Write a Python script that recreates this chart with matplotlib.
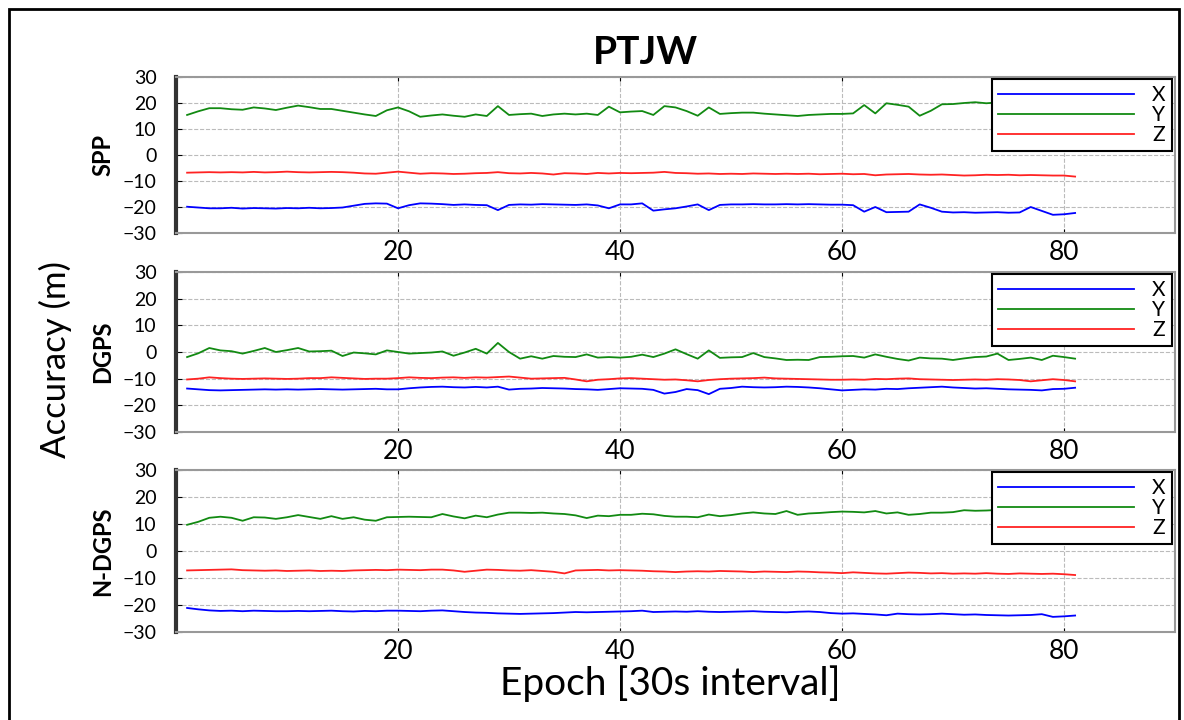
import matplotlib
matplotlib.use("Agg")
import matplotlib.pyplot as plt
from matplotlib.patches import Rectangle

plt.rcParams['font.family'] = ['Lato', 'DejaVu Sans']

# Epochs (30 s interval)
epoch = list(range(1, 82))

# SPP errors (m)
spp_x = [-19.9, -20.2, -20.5, -20.5, -20.3, -20.6, -20.4, -20.5, -20.6, -20.4,
         -20.5, -20.3, -20.5, -20.4, -20.2, -19.5, -18.8, -18.6, -18.7, -20.5,
         -19.3, -18.6, -18.7, -18.9, -19.2, -19.0, -19.2, -19.3, -21.2, -19.2,
         -19.0, -19.1, -18.9, -19.0, -19.1, -19.2, -19.0, -19.4, -20.5, -19.0,
         -19.0, -18.6, -21.4, -20.9, -20.5, -19.8, -19.0, -21.2, -19.2, -19.0,
         -19.0, -18.9, -19.0, -19.0, -18.9, -19.0, -18.9, -19.0, -19.1, -19.1,
         -19.3, -21.8, -20.0, -22.0, -21.9, -21.8, -19.0, -20.3, -21.8, -22.1,
         -22.0, -22.2, -22.1, -22.0, -22.2, -22.1, -20.0, -21.5, -23.0, -22.8, -22.3]
spp_y = [15.4, 16.8, 18.0, 18.0, 17.6, 17.4, 18.3, 17.9, 17.3, 18.2,
         19.0, 18.4, 17.7, 17.7, 17.0, 16.3, 15.6, 15.0, 17.2, 18.3,
         16.8, 14.7, 15.2, 15.6, 15.1, 14.7, 15.6, 15.0, 18.8, 15.4,
         15.7, 15.9, 15.0, 15.6, 15.9, 15.6, 15.9, 15.4, 18.6, 16.4,
         16.7, 16.9, 15.4, 18.8, 18.3, 16.9, 15.1, 18.3, 15.8, 16.1,
         16.3, 16.3, 15.9, 15.6, 15.3, 15.0, 15.4, 15.6, 15.8, 15.8,
         16.0, 19.2, 16.0, 19.9, 19.3, 18.6, 15.1, 17.0, 19.5, 19.6,
         20.0, 20.3, 19.9, 20.2, 20.4, 20.1, 20.3, 20.5, 20.2, 20.4, 20.3]
spp_z = [-6.8, -6.7, -6.6, -6.7, -6.6, -6.7, -6.5, -6.7, -6.6, -6.4,
         -6.6, -6.7, -6.6, -6.5, -6.6, -6.8, -7.1, -7.2, -6.8, -6.4,
         -6.8, -7.2, -7.0, -7.1, -7.3, -7.2, -7.0, -6.9, -6.6, -7.0,
         -7.1, -6.9, -7.1, -7.5, -7.0, -7.1, -7.3, -6.9, -7.1, -6.9,
         -7.0, -6.9, -6.8, -6.5, -6.9, -7.0, -7.2, -7.1, -7.3, -7.2,
         -7.3, -7.1, -7.2, -7.3, -7.2, -7.3, -7.2, -7.4, -7.3, -7.2,
         -7.4, -7.3, -7.8, -7.5, -7.4, -7.3, -7.5, -7.6, -7.5, -7.7,
         -7.9, -7.8, -7.6, -7.7, -7.6, -7.8, -7.7, -7.8, -7.9, -7.9, -8.3]

# DGPS errors (m)
dgps_x = [-13.7, -14.0, -14.3, -14.4, -14.3, -14.2, -14.1, -14.0, -14.1, -14.0,
          -14.1, -14.0, -13.9, -14.0, -14.1, -14.0, -13.9, -13.8, -14.0, -14.0,
          -13.6, -13.3, -13.1, -13.0, -13.2, -13.3, -13.1, -13.3, -13.0, -14.1,
          -13.8, -13.7, -13.5, -13.6, -13.7, -13.9, -14.0, -14.2, -13.9, -13.6,
          -13.7, -13.8, -14.2, -15.6, -15.0, -13.9, -14.3, -15.8, -13.8, -13.5,
          -13.0, -13.2, -13.3, -13.2, -13.0, -13.1, -13.3, -13.6, -14.0, -14.4,
          -14.2, -14.0, -14.1, -13.8, -13.9, -13.6, -13.4, -13.2, -13.0, -13.3,
          -13.5, -13.7, -13.6, -13.8, -14.0, -14.1, -14.2, -14.4, -13.9, -13.8, -13.4]
dgps_y = [-1.9, -0.5, 1.5, 0.6, 0.3, -0.6, 0.4, 1.5, 0.0, 0.7,
          1.5, 0.2, 0.3, 0.5, -1.5, -0.2, -0.5, -0.9, 0.6, 0.0,
          -0.6, -0.4, -0.2, 0.2, -1.4, -0.2, 1.2, -0.6, 3.4, 0.0,
          -2.5, -1.6, -2.5, -1.5, -1.8, -1.9, -0.9, -2.1, -1.9, -2.1,
          -1.8, -1.0, -1.9, -0.6, 1.0, -0.8, -2.5, 0.6, -2.2, -2.0,
          -1.9, -0.4, -1.9, -2.4, -3.0, -2.9, -3.0, -1.9, -1.8, -1.6,
          -1.5, -2.1, -0.9, -1.8, -2.6, -3.2, -2.1, -2.4, -2.5, -3.0,
          -2.4, -1.9, -1.7, -0.6, -3.0, -2.6, -2.1, -3.0, -1.4, -1.9, -2.5]
dgps_z = [-10.3, -10.0, -9.5, -9.8, -10.0, -10.1, -10.0, -9.9, -10.0, -10.1,
          -10.0, -9.8, -9.8, -9.5, -9.7, -9.9, -10.1, -10.0, -10.0, -9.8,
          -9.5, -9.7, -9.8, -9.6, -9.5, -9.7, -9.5, -9.6, -9.4, -9.2,
          -9.6, -10.0, -9.9, -9.8, -9.7, -10.3, -11.0, -10.4, -10.2, -9.9,
          -9.8, -10.0, -10.2, -10.4, -10.3, -10.6, -11.0, -10.5, -10.2, -10.0,
          -9.9, -9.8, -9.6, -9.9, -10.0, -10.1, -10.2, -10.3, -10.4, -10.4,
          -10.3, -10.4, -10.1, -10.2, -10.0, -9.9, -10.2, -10.3, -10.4, -10.5,
          -10.4, -10.3, -10.4, -10.2, -10.3, -10.5, -11.0, -10.6, -10.2, -10.5, -11.0]

# N-DGPS errors (m)
ndgps_x = [-21.1, -21.6, -22.0, -22.2, -22.1, -22.3, -22.1, -22.2, -22.3, -22.3,
           -22.2, -22.3, -22.2, -22.1, -22.3, -22.4, -22.2, -22.3, -22.1, -22.1,
           -22.2, -22.3, -22.1, -22.0, -22.3, -22.6, -22.8, -22.9, -23.1, -23.2,
           -23.3, -23.2, -23.1, -23.0, -22.8, -22.6, -22.7, -22.6, -22.5, -22.4,
           -22.3, -22.1, -22.6, -22.5, -22.4, -22.5, -22.3, -22.5, -22.6, -22.5,
           -22.4, -22.3, -22.5, -22.6, -22.7, -22.5, -22.4, -22.6, -23.0, -23.2,
           -23.1, -23.3, -23.5, -23.8, -23.2, -23.4, -23.5, -23.4, -23.2, -23.4,
           -23.6, -23.5, -23.7, -23.8, -23.9, -23.8, -23.7, -23.4, -24.4, -24.2, -23.9]
ndgps_y = [9.7, 10.8, 12.3, 12.7, 12.3, 11.2, 12.5, 12.4, 11.9, 12.5,
           13.3, 12.6, 11.9, 12.9, 11.9, 12.5, 11.6, 11.2, 12.5, 12.6,
           12.7, 12.6, 12.5, 13.7, 12.8, 12.1, 13.1, 12.5, 13.5, 14.2,
           14.2, 14.1, 14.2, 13.9, 13.7, 13.2, 12.2, 13.1, 12.9, 13.4,
           13.4, 13.8, 13.6, 13.0, 12.7, 12.7, 12.5, 13.5, 12.9, 13.3,
           13.9, 14.3, 13.9, 13.7, 14.8, 13.4, 13.9, 14.1, 14.4, 14.6,
           14.5, 14.3, 14.8, 13.9, 14.3, 13.4, 13.7, 14.2, 14.2, 14.4,
           15.1, 14.9, 15.0, 15.2, 15.0, 15.3, 15.1, 15.4, 15.2, 15.3, 15.1]
ndgps_z = [-7.2, -7.1, -7.0, -6.9, -6.8, -7.1, -7.2, -7.3, -7.2, -7.4,
           -7.3, -7.2, -7.4, -7.3, -7.4, -7.2, -7.1, -7.0, -7.1, -6.9,
           -7.0, -7.1, -6.9, -6.9, -7.2, -7.7, -7.3, -6.9, -7.0, -7.2,
           -7.3, -7.1, -7.4, -7.7, -8.3, -7.2, -7.1, -7.0, -7.2, -7.1,
           -7.2, -7.3, -7.5, -7.6, -7.8, -7.6, -7.5, -7.6, -7.4, -7.5,
           -7.6, -7.8, -7.6, -7.7, -7.8, -7.6, -7.7, -7.9, -8.0, -8.2,
           -7.9, -8.1, -8.3, -8.4, -8.2, -8.0, -8.1, -8.3, -8.2, -8.4,
           -8.3, -8.4, -8.2, -8.4, -8.5, -8.3, -8.4, -8.5, -8.4, -8.6, -8.9]

panels = [("SPP", spp_x, spp_y, spp_z),
          ("DGPS", dgps_x, dgps_y, dgps_z),
          ("N-DGPS", ndgps_x, ndgps_y, ndgps_z)]

# axes boxes in pixels: (top, bottom)
boxes = [(77, 233), (272, 432), (470, 632)]
W, H = 1184, 720

fig = plt.figure(figsize=(W / 100, H / 100), dpi=100)
fig.patch.set_facecolor('white')

for (name, ex, ey, ez), (top, bot) in zip(panels, boxes):
    ax = fig.add_axes([176 / W, 1 - bot / H, 999 / W, (bot - top) / H])
    ax.plot(epoch, ex, color='#0000ff', lw=1.3, label='X')
    ax.plot(epoch, ey, color='#128a12', lw=1.3, label='Y')
    ax.plot(epoch, ez, color='#ff2222', lw=1.3, label='Z')
    ax.set_xlim(0, 90)
    ax.set_ylim(-30, 30)
    ax.set_xticks([20, 40, 60, 80])
    ax.set_yticks([-30, -20, -10, 0, 10, 20, 30])
    ax.grid(True, linestyle='--', color='#bbbbbb', lw=0.8)
    ax.tick_params(axis='x', labelsize=19, direction='in', length=3, top=True, pad=5)
    ax.tick_params(axis='y', labelsize=14, direction='in', length=4, pad=14)
    for s in ['top', 'right', 'bottom']:
        ax.spines[s].set_color('#999999')
        ax.spines[s].set_linewidth(1.5)
    ax.spines['left'].set_color('#333333')
    ax.spines['left'].set_linewidth(3)
    ax.set_ylabel(name, fontsize=17, fontweight='bold', labelpad=6)
    leg = ax.legend(loc='upper right', bbox_to_anchor=(0.997, 0.99), borderaxespad=0,
                    fancybox=False, framealpha=1, edgecolor='black', fontsize=15,
                    handlelength=6.5, labelspacing=0.0, borderpad=0.3, handletextpad=0.9)
    leg.get_frame().set_linewidth(1.5)

fig.text(645 / W, 1 - 52 / H, "PTJW", fontsize=28, fontweight='bold', ha='center', va='center')
fig.text(55 / W, 1 - 360 / H, "Accuracy (m)", fontsize=25, rotation=90, ha='center', va='center')
fig.text(670 / W, 1 - 684 / H, "Epoch [30s interval]", fontsize=28, ha='center', va='center')

fig.patches.append(Rectangle((9 / W, -0.02), 1170 / W, 1 - 9 / H + 0.02, transform=fig.transFigure,
                             fill=False, edgecolor='black', lw=2))

fig.savefig("out.png", dpi=100)
